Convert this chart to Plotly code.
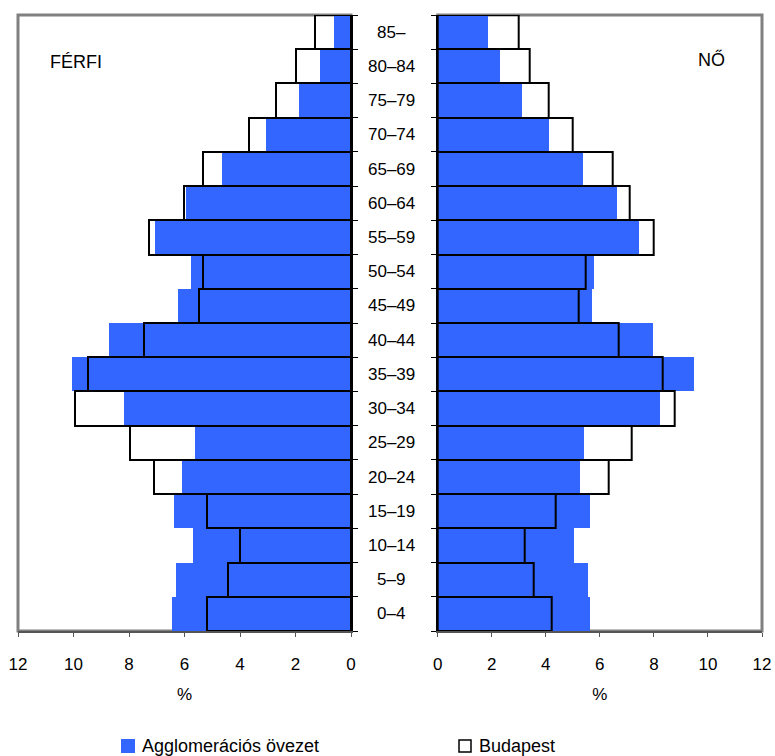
import plotly.graph_objects as go

W, H = 775, 756

ages = ["0–4", "5–9", "10–14", "15–19", "20–24", "25–29", "30–34", "35–39", "40–44",
        "45–49", "50–54", "55–59", "60–64", "65–69", "70–74", "75–79", "80–84", "85–"]

male_agglo = [6.45, 6.31, 5.69, 6.38, 6.09, 5.62, 8.18, 10.05, 8.72,
              6.23, 5.77, 7.05, 5.95, 4.65, 3.06, 1.87, 1.12, 0.60]
male_bud = [5.18, 4.42, 4.01, 5.18, 7.11, 7.95, 9.95, 9.48, 7.46,
            5.47, 5.32, 7.27, 6.02, 5.32, 3.66, 2.69, 1.99, 1.30]
female_agglo = [5.64, 5.56, 5.05, 5.64, 5.27, 5.42, 8.20, 9.49, 7.96,
                5.70, 5.78, 7.42, 6.64, 5.35, 4.09, 3.09, 2.31, 1.86]
female_bud = [4.20, 3.57, 3.21, 4.35, 6.33, 7.19, 8.77, 8.33, 6.69,
              5.20, 5.48, 7.99, 7.11, 6.48, 4.99, 4.12, 3.42, 2.99]

x_ticks = [0, 2, 4, 6, 8, 10, 12]
series_names = ["Agglomerációs övezet", "Budapest"]
panel_labels = ["FÉRFI", "NŐ"]

BLUE = "#3366FF"
GRAY = "#808080"
FONT = "Liberation Sans, Arial, sans-serif"

def px(x):
    return x / W

def py(y):
    return 1 - y / H

ydom = [py(631), py(15)]
xdom1 = [px(18), px(351)]
xdom2 = [px(437.7), px(762)]

fig = go.Figure()
fig.add_trace(go.Bar(y=ages, x=male_agglo, orientation="h", xaxis="x", yaxis="y",
                     marker=dict(color=BLUE, line=dict(width=0)), name=series_names[0]))
fig.add_trace(go.Bar(y=ages, x=male_bud, orientation="h", xaxis="x", yaxis="y",
                     marker=dict(color="rgba(0,0,0,0)", line=dict(color="black", width=2)),
                     name=series_names[1]))
fig.add_trace(go.Bar(y=ages, x=female_agglo, orientation="h", xaxis="x2", yaxis="y2",
                     marker=dict(color=BLUE, line=dict(width=0)), name=series_names[0]))
fig.add_trace(go.Bar(y=ages, x=female_bud, orientation="h", xaxis="x2", yaxis="y2",
                     marker=dict(color="rgba(0,0,0,0)", line=dict(color="black", width=2)),
                     name=series_names[1]))

xcommon = dict(tickvals=x_ticks, ticktext=[str(v) for v in x_ticks], showgrid=False,
               zeroline=False, showline=True, linecolor="#555555", linewidth=2,
               ticks="outside", ticklen=4, tickcolor="#555555", tickwidth=1,
               tickfont=dict(family=FONT, size=17, color="black"),
               ticklabelstandoff=13, automargin=False,
               title=dict(text="%", font=dict(family=FONT, size=17, color="black"), standoff=15))
ycommon = dict(type="category", categoryorder="array", categoryarray=ages,
               showticklabels=False, showgrid=False, zeroline=False, showline=True,
               linecolor="black", linewidth=2, ticks="outside", ticklen=5,
               tickcolor="black", tickwidth=1, tickson="boundaries", domain=ydom,
               automargin=False)

fig.update_layout(
    width=W, height=H, margin=dict(l=0, r=0, t=0, b=0, autoexpand=False),
    paper_bgcolor="white", plot_bgcolor="rgba(0,0,0,0)",
    barmode="overlay", bargap=0, showlegend=False,
    xaxis=dict(domain=xdom1, range=[12, 0], anchor="y", **xcommon),
    xaxis2=dict(domain=xdom2, range=[0, 12], anchor="y2", **xcommon),
    yaxis=dict(anchor="x", side="right", **ycommon),
    yaxis2=dict(anchor="x2", side="left", **ycommon),
)

# frames
fig.add_shape(type="rect", xref="x domain", yref="y domain", x0=0, x1=1, y0=0, y1=1,
              line=dict(color=GRAY, width=3), layer="below")
fig.add_shape(type="rect", xref="x2 domain", yref="y2 domain", x0=0, x1=1, y0=0, y1=1,
              line=dict(color=GRAY, width=3), layer="below")

# age labels
for a in ages:
    fig.add_annotation(x=px(391), y=a, xref="paper", yref="y", text=a, showarrow=False,
                       font=dict(family=FONT, size=17, color="black"),
                       xanchor="center", yanchor="middle")

# panel labels
fig.add_annotation(x=px(76), y=py(62), xref="paper", yref="paper", text=panel_labels[0],
                   showarrow=False, font=dict(family=FONT, size=18, color="black"),
                   xanchor="center", yanchor="middle")
fig.add_annotation(x=px(711), y=py(60), xref="paper", yref="paper", text=panel_labels[1],
                   showarrow=False, font=dict(family=FONT, size=18, color="black"),
                   xanchor="center", yanchor="middle")

# legend
fig.add_shape(type="rect", xref="paper", yref="paper", x0=px(121), x1=px(135),
              y0=py(753), y1=py(739), fillcolor=BLUE, line=dict(width=0))
fig.add_annotation(x=px(140), y=py(746), xref="paper", yref="paper", text=series_names[0],
                   showarrow=False, font=dict(family=FONT, size=18, color="black"),
                   xanchor="left", yanchor="middle")
fig.add_shape(type="rect", xref="paper", yref="paper", x0=px(459), x1=px(471),
              y0=py(752), y1=py(740), fillcolor="white", line=dict(color="black", width=1.5))
fig.add_annotation(x=px(477), y=py(746), xref="paper", yref="paper", text=series_names[1],
                   showarrow=False, font=dict(family=FONT, size=18, color="black"),
                   xanchor="left", yanchor="middle")

fig.write_html("out.html", config={"displayModeBar": False},
               post_script="document.body.style.margin='0';document.body.style.padding='0';")
